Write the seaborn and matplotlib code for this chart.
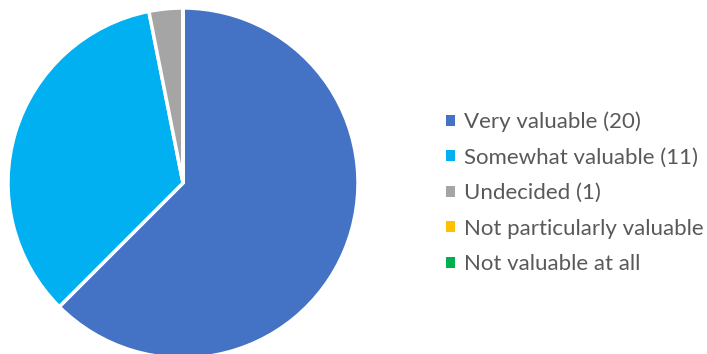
import matplotlib
matplotlib.use("Agg")
import matplotlib.pyplot as plt
from matplotlib.patches import Patch
import seaborn as sns

categories = ["Very valuable (20)", "Somewhat valuable (11)", "Undecided (1)",
              "Not particularly valuable", "Not valuable at all"]
values = [20, 11, 1, 0, 0]
colors = ["#4472C4", "#00B0F0", "#A5A5A5", "#FFC000", "#00B050"]

sns.set_theme(style="white")
plt.rcParams['font.family'] = ['Lato', 'DejaVu Sans']

fig = plt.figure(figsize=(7.07, 3.54), dpi=100)
ax = fig.add_axes([8/707, -4/354, 350/707, 350/354])
pal = sns.color_palette(colors)
ax.pie(values, colors=pal, startangle=90, counterclock=False,
       wedgeprops=dict(edgecolor="white", linewidth=2.5))
ax.set_xlim(-1, 1)
ax.set_ylim(-1, 1)
ax.set_aspect("equal")
ax.axis("off")

handles = [Patch(facecolor=c, edgecolor="none") for c in pal]
fig.legend(handles, categories, loc="center left", bbox_to_anchor=(426/707, 0.455),
           frameon=False, fontsize=16, labelcolor="#595959",
           handlelength=0.4, handleheight=0.4, handletextpad=0.4,
           labelspacing=0.7)
fig.savefig("out.png", dpi=100)
